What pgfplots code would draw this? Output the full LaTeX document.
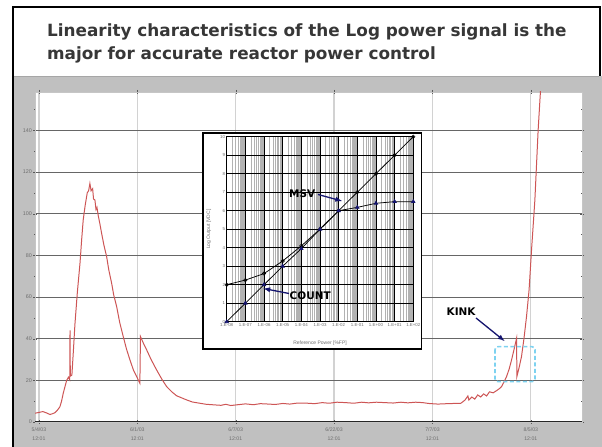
\documentclass[border=0pt]{standalone}
\usepackage{pgfplots}
\pgfplotsset{compat=1.18}
\usepackage{fontspec}
\setmainfont{Liberation Sans}
\newfontfamily\titlefont{DejaVu Sans}
\definecolor{slidegray}{RGB}{192,192,192}
\definecolor{redline}{RGB}{205,85,85}
\definecolor{navyarrow}{RGB}{20,20,110}
\definecolor{kinkblue}{RGB}{125,210,240}
\definecolor{titlegray}{RGB}{55,55,55}
\definecolor{tickgray}{RGB}{110,110,110}
\tikzset{px/.style={x=1bp,y=-1bp,yshift=447bp}}
\begin{document}
\begin{tikzpicture}
\path[use as bounding box] (0bp,0bp) rectangle (602bp,447bp);
\begin{scope}[px]
\fill[white] (0,0) rectangle (602,447);
\fill[slidegray] (14,76) rectangle (602,447);
\draw[gray!70, line width=1.5] (14,76.5) -- (599,76.5);
\draw[black, line width=2.4] (13,447) -- (13,7) -- (600,7) -- (600,76);
\node[anchor=base west, inner sep=0, text=titlegray, font=\titlefont\fontsize{16.9}{20}\selectfont\bfseries] at (47,37) {Linearity characteristics of the Log power signal is the};
\node[anchor=base west, inner sep=0, text=titlegray, font=\titlefont\fontsize{16.9}{20}\selectfont\bfseries] at (47,59.5) {major for accurate reactor power control};
\end{scope}

% background trend chart
\begin{axis}[at={(35bp,25bp)}, anchor=south west, scale only axis,
  width=547bp, height=330bp,
  xmin=-0.04, xmax=5.52, ymin=0, ymax=158.4,
  axis background/.style={fill=white},
  axis line style={gray!45},
  xtick={0,1,2,3,4,5},
  xticklabels={5/4/03\\12:01, 6/1/03\\12:01, 6/7/03\\12:01, 6/22/03\\12:01, 7/7/03\\12:01, 8/5/03\\12:01},
  ytick={0,20,40,60,80,100,120,140},
  minor ytick={10,30,50,70,90,110,130,150},
  grid=major,
  x grid style={gray!35, line width=1.2},
  y grid style={gray!80!black, line width=0.8},
  tick align=center, major tick length=4bp, minor tick length=2bp,
  tick style={gray!70!black},
  xticklabel style={font=\fontsize{5.2}{9}\selectfont, text=tickgray, align=center},
  yticklabel style={font=\fontsize{5.4}{6}\selectfont, text=tickgray, inner sep=1pt},
  /pgf/number format/assume math mode=true,
]
\addplot[redline, line width=1.0, no marks] coordinates {
(-0.041,4.2)(0.0,4.6)(0.041,5.0)(0.08,4.3)(0.112,3.6)(0.14,4.0)(0.163,4.5)(0.19,5.8)(0.213,7.3)(0.23,10)(0.247,13.8)(0.265,17)(0.282,20)(0.30,21.5)(0.313,20.3)(0.316,44)(0.319,22)(0.335,22.5)(0.35,34)(0.366,47)(0.39,62)(0.417,76)(0.435,88)(0.450,97)(0.47,104)(0.491,110)(0.505,111)(0.518,114.5)(0.53,111)(0.546,112)(0.555,107)(0.569,106.6)(0.58,102)(0.59,103)(0.603,99)(0.62,95)(0.637,90.6)(0.66,85)(0.688,79.4)(0.71,73)(0.739,66.6)(0.76,61)(0.790,55.4)(0.82,48)(0.857,41)(0.89,35)(0.925,29.8)(0.96,25)(0.993,21.8)(1.026,18.6)(1.032,41)(1.06,38)(1.095,34.6)(1.14,30)(1.196,25)(1.25,20.5)(1.298,17)(1.35,14.5)(1.399,12.6)(1.45,11.6)(1.501,10.6)(1.56,9.6)(1.636,9.0)(1.70,8.5)(1.789,8.2)(1.85,8.0)(1.90,8.5)(1.95,7.9)(2.022,8.3)(2.10,8.7)(2.18,8.3)(2.25,8.8)(2.337,8.6)(2.40,8.4)(2.48,8.9)(2.55,8.6)(2.63,9.1)(2.734,9.0)(2.80,8.8)(2.88,9.3)(2.95,9.0)(3.03,9.5)(3.120,9.3)(3.20,9.0)(3.28,9.5)(3.35,9.2)(3.43,9.5)(3.516,9.3)(3.60,9.1)(3.68,9.5)(3.75,9.2)(3.83,9.5)(3.902,9.3)(3.96,8.9)(4.055,8.6)(4.15,8.8)(4.289,9.0)(4.33,10.5)(4.36,12.5)(4.37,10.5)(4.40,12)(4.43,11)(4.46,13)(4.49,12)(4.52,13.5)(4.55,12.5)(4.58,14.5)(4.617,14)(4.65,15)(4.68,16)(4.702,17)(4.73,19.5)(4.753,21.8)(4.78,25.5)(4.804,29.8)(4.83,35)(4.855,40.2)(4.858,21.8)(4.88,26)(4.905,31.4)(4.93,40)(4.956,50.6)(4.982,63.4)(5.007,82.6)(5.041,106.6)(5.074,140)(5.098,159)
};
\draw[gray!30!black, line width=1.2] (rel axis cs:0,0) -- (rel axis cs:1,0);
\end{axis}

% inset box
\begin{scope}[px]
\draw[black, line width=1.3, fill=white] (203,133) rectangle (421.5,349);
\end{scope}

\begin{axis}[at={(226.7bp,125.3bp)}, anchor=south west, scale only axis,
  width=186.6bp, height=185bp,
  xmode=log, log basis x=10, xmin=1e-8, xmax=1e2, ymin=0, ymax=10,
  xtick={1e-8,1e-7,1e-6,1e-5,1e-4,1e-3,1e-2,1e-1,1,1e1,1e2},
  xticklabels={1.E-08,1.E-07,1.E-06,1.E-05,1.E-04,1.E-03,1.E-02,1.E-01,1.E+00,1.E+01,1.E+02},
  minor xtick={2e-8,3e-8,4e-8,5e-8,6e-8,7e-8,8e-8,9e-8,
    2e-7,3e-7,4e-7,5e-7,6e-7,7e-7,8e-7,9e-7,
    2e-6,3e-6,4e-6,5e-6,6e-6,7e-6,8e-6,9e-6,
    2e-5,3e-5,4e-5,5e-5,6e-5,7e-5,8e-5,9e-5,
    2e-4,3e-4,4e-4,5e-4,6e-4,7e-4,8e-4,9e-4,
    2e-3,3e-3,4e-3,5e-3,6e-3,7e-3,8e-3,9e-3,
    2e-2,3e-2,4e-2,5e-2,6e-2,7e-2,8e-2,9e-2,
    2e-1,3e-1,4e-1,5e-1,6e-1,7e-1,8e-1,9e-1,
    2,3,4,5,6,7,8,9,20,30,40,50,60,70,80,90},
  ytick={0,1,2,3,4,5,6,7,8,9,10},
  grid=both,
  major grid style={black, line width=0.6},
  minor grid style={gray!60, line width=0.35},
  major tick length=0pt, minor tick length=0pt,
  axis line style={black, line width=0.6},
  ticklabel style={font=\fontsize{4.4}{5}\selectfont, text=tickgray},
  xticklabel style={inner sep=1.5pt},
  yticklabel style={inner sep=1.5pt},
  xlabel={Reference Power [\%FP]}, ylabel={Log Output [VDC]},
  label style={font=\fontsize{5}{6}\selectfont, text=tickgray},
  xlabel style={yshift=-9bp},
  ylabel style={yshift=4bp},
  /pgf/number format/assume math mode=true,
]
\addplot[black, line width=0.75, mark=o, mark size=1.7bp, mark options={fill=white, solid, line width=0.6}] coordinates {
(1e-8,2.0)(1e-7,2.25)(1e-6,2.6)(1e-5,3.28)(1e-4,4.1)(1e-3,5.0)(1e-2,6.0)(1e-1,7.0)(1,8.0)(1e1,9.0)(1e2,10.0)
};
\addplot[black, line width=0.75, mark=triangle*, mark size=1.9bp, mark options={fill=navyarrow, draw=navyarrow, solid}] coordinates {
(1e-8,0)(1e-7,1)(1e-6,2)(1e-5,3)(1e-4,3.95)(1e-3,5.0)(1e-2,6.0)(1e-1,6.18)(1,6.4)(1e1,6.49)(1e2,6.49)
};
\end{axis}

% annotations
\begin{scope}[px]
\node[anchor=west, inner sep=0, font=\titlefont\fontsize{10.5}{12}\selectfont\bfseries] at (289,193.5) {MSV};
\draw[navyarrow, line width=1.3, -{latex}] (318,194.5) -- (342,201);
\node[anchor=west, inner sep=0, font=\titlefont\fontsize{10.5}{12}\selectfont\bfseries] at (289.5,296) {COUNT};
\draw[navyarrow, line width=1.3, -{latex}] (289,293.5) -- (263.5,288.5);
\node[anchor=west, inner sep=0, font=\titlefont\fontsize{10.5}{12}\selectfont\bfseries] at (446.5,311.5) {KINK};
\draw[navyarrow, line width=1.3, -{latex}] (476,318) -- (504.5,341);
\draw[kinkblue, dash pattern=on 4bp off 2.5bp, line width=1.6, rounded corners=3bp] (495,346.7) rectangle (535,381.7);
\end{scope}
\end{tikzpicture}
\end{document}
